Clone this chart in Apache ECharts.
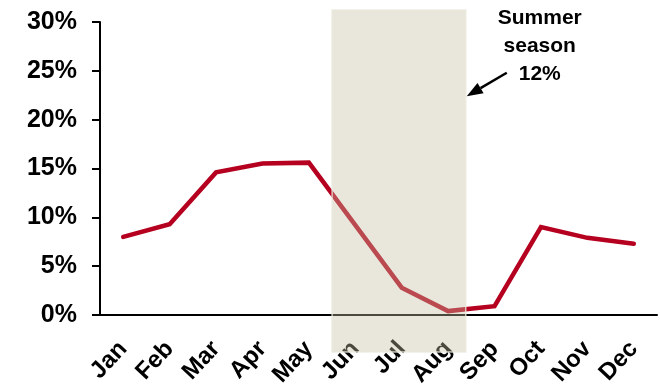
<!DOCTYPE html>
<html>
<head>
    <meta charset="utf-8">
    <title>Summer season</title>
    <style>
        html, body { margin: 0; padding: 0; background: #fff; }
    </style>
</head>
<body>
    <div id="main" style="width:660px;height:385px"></div>
    <script src="https://cdn.jsdelivr.net/npm/echarts@6/dist/echarts.min.js"></script>
    <script type="text/javascript">
        // data (share of the year, %)
        var months = ['Jan', 'Feb', 'Mar', 'Apr', 'May', 'Jun', 'Jul', 'Aug', 'Sep', 'Oct', 'Nov', 'Dec'];
        var share = [8.0, 9.3, 14.6, 15.5, 15.6, 9.2, 2.8, 0.4, 0.9, 9.0, 7.9, 7.3];
        var yTicks = [0, 5, 10, 15, 20, 25, 30];
        var summerMonths = ['Jun', 'Aug'];
        var summerNote = ['Summer', 'season', '12%'];

        var font = 'Liberation Sans, Arial, sans-serif';
        var myChart = echarts.init(document.getElementById('main'));

        var option = {
            animation: false,
            grid: { left: 100, right: 3, top: 22, bottom: 70, containLabel: false, outerBoundsMode: 'none' },
            xAxis: {
                type: 'category',
                data: months,
                boundaryGap: true,
                axisLine: { lineStyle: { color: '#000', width: 2 } },
                axisTick: { length: 7, lineStyle: { color: '#000', width: 2 } },
                axisLabel: {
                    rotate: 47,
                    margin: 30,
                    color: '#000',
                    fontWeight: 'bold',
                    fontSize: 24,
                    fontFamily: font
                }
            },
            yAxis: {
                type: 'value',
                min: yTicks[0],
                max: yTicks[yTicks.length - 1],
                interval: yTicks[1] - yTicks[0],
                splitLine: { show: false },
                axisLine: { show: true, lineStyle: { color: '#000', width: 2 } },
                axisTick: { show: true, length: 8, lineStyle: { color: '#000', width: 2 } },
                axisLabel: {
                    margin: 23,
                    color: '#000',
                    fontWeight: 'bold',
                    fontSize: 25,
                    fontFamily: font,
                    formatter: '{value}%'
                }
            },
            series: [{
                type: 'line',
                data: share,
                showSymbol: false,
                symbol: 'none',
                lineStyle: { color: '#b5001f', width: 4.5, cap: 'round', join: 'miter' }
            }]
        };
        myChart.setOption(option);

        // shaded summer box, arrow and note placed from the axes
        var px = function (m) { return myChart.convertToPixel({ xAxisIndex: 0 }, m); };
        var py = function (v) { return myChart.convertToPixel({ yAxisIndex: 0 }, v); };
        var bw = px(months[1]) - px(months[0]);
        var yTop = py(yTicks[yTicks.length - 1]);
        var yZero = py(0);
        var left = px(summerMonths[0]) - bw / 2;
        var right = px(summerMonths[1]) + bw * 0.38;

        // arrow from the note down-left to the box edge
        var tip = [right + 1, py(22.4)];
        var tail = [right + 41, py(24.8)];
        var len = Math.hypot(tail[0] - tip[0], tail[1] - tip[1]);
        var ux = (tail[0] - tip[0]) / len, uy = (tail[1] - tip[1]) / len;
        var headLen = 16, headHalf = 6;
        var base = [tip[0] + ux * headLen, tip[1] + uy * headLen];

        myChart.setOption({
            graphic: [
                {
                    type: 'rect',
                    z: 100,
                    shape: { x: left, y: yTop - 12, width: right - left, height: yZero - yTop + 49 },
                    style: { fill: 'rgba(197,192,160,0.38)', stroke: 'rgba(235,233,220,0.8)', lineWidth: 1.5 }
                },
                {
                    type: 'line',
                    z: 101,
                    shape: { x1: tail[0], y1: tail[1], x2: base[0], y2: base[1] },
                    style: { stroke: '#000', lineWidth: 2.5 }
                },
                {
                    type: 'polygon',
                    z: 101,
                    shape: {
                        points: [
                            tip,
                            [base[0] - uy * headHalf, base[1] + ux * headHalf],
                            [base[0] + uy * headHalf, base[1] - ux * headHalf]
                        ]
                    },
                    style: { fill: '#000' }
                },
                {
                    type: 'text',
                    z: 101,
                    x: right + 74,
                    y: 4,
                    style: {
                        text: summerNote.join('\n'),
                        font: 'bold 21px ' + font,
                        fill: '#000',
                        align: 'center',
                        verticalAlign: 'top',
                        lineHeight: 28
                    }
                }
            ]
        });
    </script>
</body>
</html>
